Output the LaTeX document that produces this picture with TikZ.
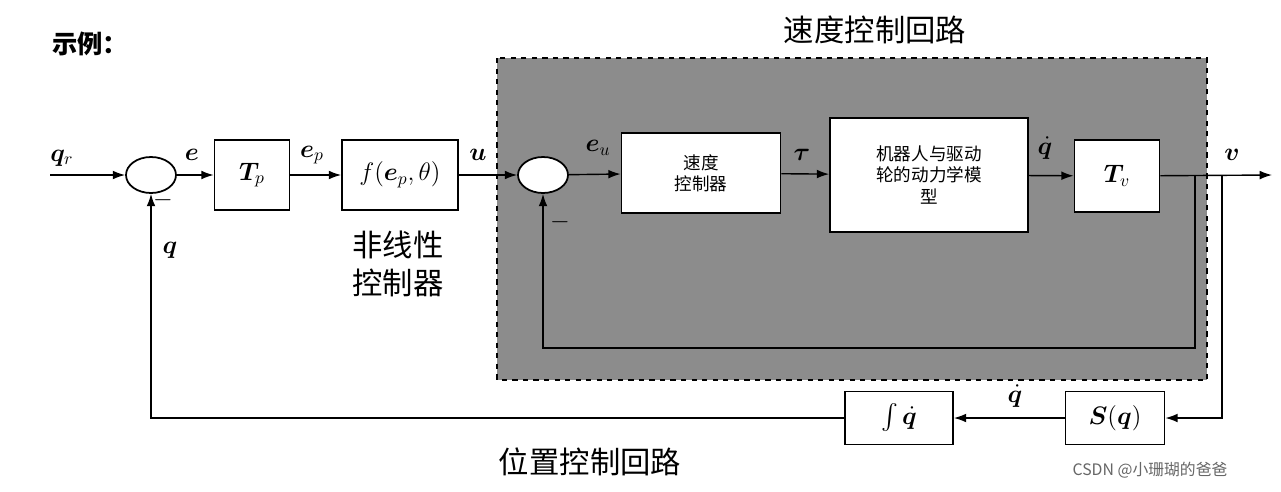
\documentclass[tikz,border=0pt]{standalone}
\usepackage{amsmath,bm}
\usepackage{fontspec}
\newfontfamily\cjk{Noto Sans CJK SC}
\usetikzlibrary{arrows.meta,shapes.geometric}
\begin{document}
\begin{tikzpicture}[x=0.02cm,y=-0.02cm,
  blk/.style={draw,line width=1pt,fill=white,inner sep=0pt},
  sumc/.style={draw,line width=1pt,ellipse,fill=white,minimum width=1cm,minimum height=0.72cm,inner sep=0pt},
  arr/.style={-{Latex[length=7pt,width=5pt]},line width=0.8pt},
  lab/.style={font=\Large}]
\useasboundingbox (0,0) rectangle (1281,491);
\fill[white] (0,0) rectangle (1281,491);
\node[font=\cjk\bfseries\Large] (title) at (90,44) {示例：};
\node[font=\cjk\LARGE] (vt) at (875,30) {速度控制回路};
\draw[dashed,line width=1pt,fill=black!45] (497,58) rectangle (1207,380);
\coordinate (start) at (50,175);
\node[lab] (qr) at (62,158) {$\bm{q}_r$};
\node[sumc] (s1) at (151,175) {};
\node[blk,minimum width=1.5cm,minimum height=1.4cm] (tp) at (252,175) {\Large$\bm{T}_p$};
\node[blk,minimum width=2.32cm,minimum height=1.4cm] (f) at (400,175) {\Large$f(\bm{e}_p,\theta)$};
\node[sumc] (s2) at (543,175) {};
\node[blk,minimum width=3.18cm,minimum height=1.6cm,align=center,font=\cjk] (vc) at (701,173) {速度\\控制器};
\node[blk,minimum width=3.96cm,minimum height=2.28cm,align=center,font=\cjk] (rob) at (929,175) {机器人与驱动\\轮的动力学模\\型};
\node[blk,minimum width=1.7cm,minimum height=1.44cm] (tv) at (1117,176) {\Large$\bm{T}_v$};
\coordinate (out) at (1272,175);
\coordinate (b1) at (1195,175);
\coordinate (b2) at (1222,175);
\node[blk,minimum width=1.98cm,minimum height=1.06cm] (sq) at (1115,418) {\Large$\bm{S}(\bm{q})$};
\node[blk,minimum width=2.16cm,minimum height=1.06cm] (iq) at (899,418) {\Large$\int\dot{\bm{q}}$};
\draw[arr] (start) -- (s1);
\draw[arr] (s1) -- (tp);
\draw[arr] (tp) -- (f);
\draw[arr] (f) -- (s2);
\draw[arr] (s2) -- (vc);
\draw[arr] (vc) -- (rob);
\draw[arr] (rob) -- (tv);
\draw[arr] (tv) -- (out);
\draw[arr] (b1) |- (543,348) -- (s2);
\draw[arr] (b2) |- (sq.east);
\draw[arr] (sq) -- (iq);
\draw[arr] (iq.west) -| (s1);
\node[lab] (le) at (192,155) {$\bm{e}$};
\node[lab] (lep) at (312,155) {$\bm{e}_p$};
\node[lab] (lu) at (478,155) {$\bm{u}$};
\node[lab] (leu) at (598,148) {$\bm{e}_u$};
\node[lab] (ltau) at (802,155) {$\bm{\tau}$};
\node[lab] (lqd) at (1045,148) {$\dot{\bm{q}}$};
\node[lab] (lv) at (1232,155) {$\bm{v}$};
\node[lab] (lqd2) at (1015,396) {$\dot{\bm{q}}$};
\node[lab] (lq) at (170,250) {$\bm{q}$};
\node[lab] (m1) at (163,200) {$-$};
\node[lab] (m2) at (560,222) {$-$};
\node[font=\cjk\LARGE,align=center] (nl) at (398,264) {非线性\\控制器};
\node[font=\cjk\LARGE] (pl) at (590,462) {位置控制回路};
\node[font=\cjk\small,text=black!60] (wm) at (1150,470) {CSDN @小珊瑚的爸爸};
\end{tikzpicture}
\end{document}
